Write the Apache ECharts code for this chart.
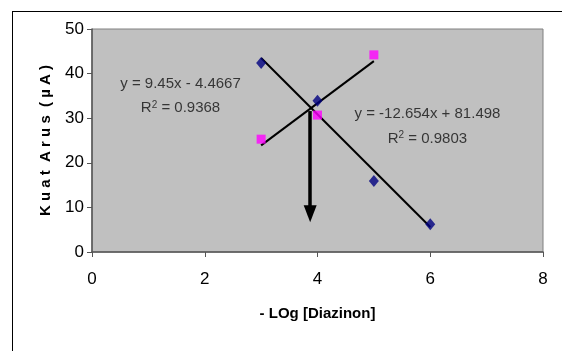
<!DOCTYPE html>
<html>
<head>
<meta charset="utf-8">
<script src="https://cdn.jsdelivr.net/npm/echarts@6/dist/echarts.min.js"></script>
<style>
    html, body { margin: 0; padding: 0; background: #fff; }
    #frame { position: absolute; left: 12px; top: 11px; right: 0; bottom: 0; border-left: 1.5px solid #000; border-top: 1.5px solid #000; }
    #chart { position: absolute; left: 0; top: 0; width: 562px; height: 351px; }
</style>
</head>
<body>
<div id="frame"></div>
<div id="chart"></div>
<script>
// Data
var blueX = [3, 4, 5, 6];
var blueY = [42.4, 33.9, 15.9, 6.2];
var pinkX = [3, 4, 5];
var pinkY = [25.3, 30.7, 44.2];

// Trend line end points (as drawn)
var blueTrend = [[3, 43.5], [6, 5.6]];
var pinkTrend = [[3, 23.9], [5, 42.8]];

// Arrow from intersection downwards
var arrowFrom = [3.87, 31.6];
var arrowTo = [3.87, 8.6];

// Equation labels and where they sit (data coords)
var eqLabels = [
    { pos: [1.57, 37.8], text: 'y = 9.45x - 4.4667' },
    { pos: [1.57, 32.3], text: 'R{sup|2} = 0.9368' },
    { pos: [5.95, 30.9], text: 'y = -12.654x + 81.498' },
    { pos: [5.95, 25.4], text: 'R{sup|2} = 0.9803' }
];

var toPairs = function(xs, ys) {
    return xs.map(function(x, i) { return [x, ys[i]]; });
};

var chart = echarts.init(document.getElementById('chart'));

chart.setOption({
    animation: false,
    textStyle: {
        fontFamily: '"Liberation Sans", Arial, sans-serif'
    },
    grid: {
        left: 92,
        right: 19,
        top: 29,
        bottom: 99,
        show: true,
        backgroundColor: '#c0c0c0',
        borderColor: '#808080',
        borderWidth: 1
    },
    xAxis: {
        type: 'value',
        min: 0,
        max: 8,
        interval: 2,
        name: '- LOg [Diazinon]',
        nameLocation: 'middle',
        nameGap: 54,
        nameTextStyle: { fontSize: 15, fontWeight: 'bold', color: '#000' },
        axisLine: { lineStyle: { color: '#555', width: 1.5 } },
        axisTick: { show: true, length: 5, lineStyle: { color: '#555' } },
        axisLabel: { fontSize: 17, color: '#000', margin: 19 },
        splitLine: { show: false }
    },
    yAxis: {
        type: 'value',
        min: 0,
        max: 50,
        interval: 10,
        name: 'K u a t  A r u s  ( µ A )',
        nameLocation: 'middle',
        nameGap: 39,
        nameTextStyle: { fontSize: 15, fontWeight: 'bold', color: '#000' },
        axisLine: { show: true, lineStyle: { color: '#555', width: 1.5 } },
        axisTick: { show: true, length: 5, lineStyle: { color: '#555' } },
        axisLabel: { fontSize: 17, color: '#000', margin: 8 },
        splitLine: { show: false }
    },
    series: [
        {
            name: 'trend blue',
            type: 'line',
            data: blueTrend,
            symbol: 'none',
            lineStyle: { color: '#000', width: 2 },
            z: 2
        },
        {
            name: 'trend pink',
            type: 'line',
            data: pinkTrend,
            symbol: 'none',
            lineStyle: { color: '#000', width: 2 },
            z: 2,
            markLine: {
                silent: true,
                symbol: ['none', 'triangle'],
                symbolSize: [13, 17],
                label: { show: false },
                lineStyle: { color: '#000', width: 3.5, type: 'solid' },
                data: [[{ coord: arrowFrom }, { coord: arrowTo }]]
            }
        },
        {
            name: 'blue',
            type: 'scatter',
            data: toPairs(blueX, blueY),
            symbol: 'diamond',
            symbolSize: [10, 12],
            itemStyle: { color: '#000080' },
            z: 3
        },
        {
            name: 'pink',
            type: 'scatter',
            data: toPairs(pinkX, pinkY),
            symbol: 'rect',
            symbolSize: 9,
            itemStyle: { color: '#ff00ff' },
            z: 3
        },
        {
            name: 'equations',
            type: 'scatter',
            symbolSize: 0,
            silent: true,
            data: eqLabels.map(function(l) {
                return { value: l.pos, label: { formatter: l.text } };
            }),
            label: {
                show: true,
                position: 'inside',
                fontSize: 15,
                color: '#111',
                rich: {
                    sup: { fontSize: 10, verticalAlign: 'top', padding: [0, 0, 6, 0], color: '#111' }
                }
            },
            z: 4
        }
    ]
});
</script>
</body>
</html>
